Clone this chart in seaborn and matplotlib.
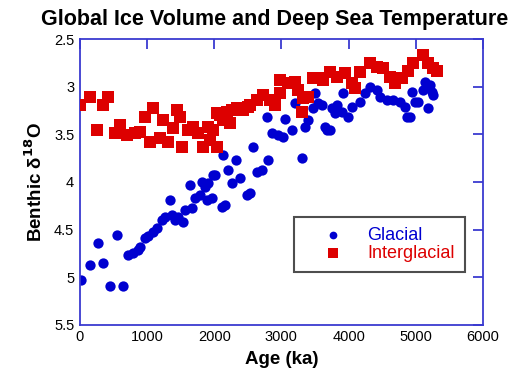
import numpy as np
import pandas as pd
import matplotlib
matplotlib.use("Agg")
import matplotlib.pyplot as plt
import seaborn as sns

# Glacial (blue circles)
glacial_age = [15, 149, 268, 342, 447, 551, 640, 715, 789, 864, 893, 968, 1013, 1087,
               1147, 1221, 1266, 1340, 1370, 1415, 1459, 1534, 1563, 1638, 1668, 1712,
               1787, 1817, 1861, 1891, 1906, 1965, 1980, 2010, 2114, 2160, 2129, 2204,
               2263, 2323, 2382, 2487, 2531, 2576, 2636, 2710, 2784, 2799, 2859, 2948,
               3023, 3052, 3157, 3201, 3306, 3350, 3395, 3469, 3499, 3544, 3603, 3648,
               3678, 3723, 3752, 3797, 3827, 3916, 3901, 3991, 4050, 4169, 4244, 4318,
               4422, 4467, 4571, 4661, 4765, 4839, 4869, 4914, 4943, 4988, 5033, 5107,
               5137, 5212, 5241, 5182, 5256]
glacial_d18o = [5.03, 4.87, 4.64, 4.85, 5.09, 4.56, 5.09, 4.77, 4.75, 4.71, 4.68, 4.59,
                4.57, 4.52, 4.48, 4.40, 4.37, 4.19, 4.35, 4.40, 4.37, 4.42, 4.29, 4.03,
                4.27, 4.17, 4.14, 4.00, 4.05, 4.19, 4.01, 4.17, 3.93, 3.93, 4.26, 4.24,
                3.72, 3.87, 4.01, 3.77, 3.96, 4.14, 4.12, 3.63, 3.90, 3.87, 3.32, 3.77,
                3.49, 3.51, 3.53, 3.34, 3.45, 3.17, 3.75, 3.42, 3.35, 3.22, 3.07, 3.17,
                3.19, 3.42, 3.45, 3.45, 3.22, 3.28, 3.19, 3.07, 3.27, 3.32, 3.21, 3.16,
                3.07, 3.00, 3.03, 3.11, 3.14, 3.14, 3.16, 3.21, 3.32, 3.32, 3.06, 3.16,
                3.16, 3.03, 2.95, 2.98, 3.06, 3.22, 3.09]

# Interglacial (red squares)
inter_age = [0, 149, 253, 342, 417, 521, 596, 700, 819, 893, 968, 1042, 1087, 1191,
             1236, 1310, 1385, 1444, 1489, 1519, 1608, 1683, 1757, 1831, 1906, 1936,
             1980, 2040, 2040, 2085, 2129, 2189, 2234, 2263, 2338, 2427, 2502, 2531,
             2636, 2725, 2829, 2904, 2978, 2978, 3097, 3201, 3246, 3320, 3395, 3306,
             3469, 3574, 3618, 3723, 3827, 3946, 4050, 4095, 4169, 4318, 4422, 4512,
             4616, 4690, 4795, 4884, 4958, 5107, 5182, 5256, 5316]
inter_d18o = [3.19, 3.11, 3.45, 3.19, 3.11, 3.49, 3.40, 3.51, 3.49, 3.48, 3.32, 3.58,
              3.22, 3.54, 3.35, 3.58, 3.43, 3.24, 3.32, 3.63, 3.45, 3.42, 3.49, 3.63,
              3.42, 3.56, 3.45, 3.63, 3.28, 3.30, 3.35, 3.27, 3.38, 3.24, 3.22, 3.24,
              3.21, 3.19, 3.14, 3.09, 3.14, 3.19, 3.07, 2.93, 2.96, 2.95, 3.03, 3.12,
              3.11, 3.27, 2.91, 2.91, 2.93, 2.85, 2.90, 2.86, 2.96, 3.01, 2.85, 2.75,
              2.79, 2.80, 2.90, 2.96, 2.91, 2.83, 2.75, 2.67, 2.75, 2.80, 2.83]

x_ticks = [0, 1000, 2000, 3000, 4000, 5000, 6000]
y_ticks = [2.5, 3, 3.5, 4, 4.5, 5, 5.5]
y_ticklabels = ['2.5', '3', '3.5', '4', '4.5', '5', '5.5']

glac = pd.DataFrame({'Age': glacial_age, 'd18O': glacial_d18o, 'kind': 'Glacial'})
inter = pd.DataFrame({'Age': inter_age, 'd18O': inter_d18o, 'kind': 'Interglacial'})

sns.set_style("white")
plt.rcParams['font.family'] = ['Liberation Sans', 'DejaVu Sans']
plt.rcParams['text.color'] = 'black'
plt.rcParams['axes.labelcolor'] = 'black'

blue = '#0000d0'
red = '#dd0000'
axis_blue = '#3a3ad0'

fig = plt.figure(figsize=(5.25, 3.76), dpi=100)
ax = fig.add_axes([0.152, 0.136, 0.768, 0.760])

sns.scatterplot(data=glac, x='Age', y='d18O', color=blue, marker='o', s=55,
                edgecolor=blue, linewidth=0, label='Glacial', ax=ax, zorder=2)
sns.scatterplot(data=inter, x='Age', y='d18O', color=red, marker='s', s=80,
                edgecolor=red, linewidth=0, label='Interglacial', ax=ax, zorder=3)

ax.set_xlim(0, 6000)
ax.set_ylim(5.5, 2.5)
ax.set_xticks(x_ticks)
ax.set_yticks(y_ticks)
ax.set_yticklabels(y_ticklabels)

for sp in ax.spines.values():
    sp.set_color(axis_blue)
    sp.set_linewidth(1.3)
ax.tick_params(direction='in', length=7, width=1.3, color=axis_blue,
               labelcolor='black', top=True, right=True, labelsize=10.5, pad=4)
ax.grid(False)

ax.set_xlabel('Age (ka)', fontsize=13.5, fontweight='bold', labelpad=5)
ax.set_ylabel(r'Benthic δ$^{\mathbf{18}}$O', fontsize=13.5, fontweight='bold', labelpad=6)
fig.suptitle('Global Ice Volume and Deep Sea Temperature', fontsize=15.5,
             fontweight='bold', x=0.523, y=0.975)

leg = ax.legend(loc='lower right', bbox_to_anchor=(0.955, 0.185), frameon=True,
                fancybox=False, edgecolor='#222222', fontsize=13, markerscale=0.75,
                handlelength=3.2, handletextpad=0.3, borderpad=0.55,
                labelspacing=0.05, borderaxespad=0)
leg.get_frame().set_linewidth(1.5)
for txt, c in zip(leg.get_texts(), [blue, red]):
    txt.set_color(c)

fig.savefig('out.png', dpi=100)
